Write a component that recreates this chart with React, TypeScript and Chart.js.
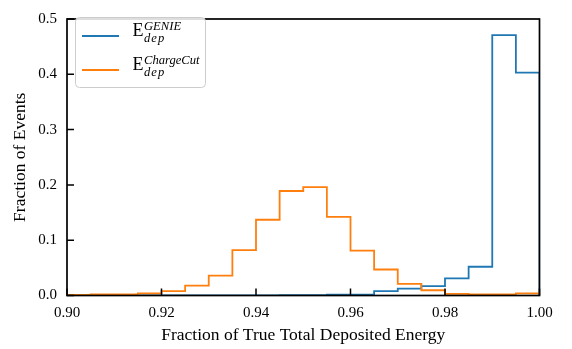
import React, { useEffect, useRef } from "react";
import { Chart, registerables } from "chart.js";

Chart.register(...registerables);

// Histogram bin left edges (bin width 0.005) and right end
const binEdges = [
  0.9, 0.905, 0.91, 0.915, 0.92, 0.925, 0.93, 0.935, 0.94, 0.945,
  0.95, 0.955, 0.96, 0.965, 0.97, 0.975, 0.98, 0.985, 0.99, 0.995, 1.0,
];

// Fraction of events per bin
const genieFractions = [
  0.0, 0.0, 0.0, 0.0, 0.0, 0.0, 0.0, 0.0, 0.0, 0.0005,
  0.0005, 0.0015, 0.0015, 0.008, 0.0125, 0.017, 0.031, 0.052, 0.471, 0.403,
];
const chargeCutFractions = [
  0.001, 0.002, 0.002, 0.004, 0.008, 0.018, 0.036, 0.082, 0.137, 0.189,
  0.196, 0.142, 0.081, 0.047, 0.021, 0.0095, 0.003, 0.002, 0.002, 0.004,
];

const xTicks = [0.9, 0.92, 0.94, 0.96, 0.98, 1.0];
const yTicks = [0.0, 0.1, 0.2, 0.3, 0.4, 0.5];

const xLabel = "Fraction of True Total Deposited Energy";
const yLabel = "Fraction of Events";
const legendBase = "E";
const legendSub = "dep";
const legendSups = ["GENIE", "ChargeCut"];

const BLUE = "#1f77b4";
const ORANGE = "#ff7f0e";
const SERIF = "'Liberation Serif', 'Times New Roman', serif";

function stepPoints(values: number[]) {
  const pts: { x: number; y: number }[] = [{ x: binEdges[0], y: 0 }];
  values.forEach((v, i) => pts.push({ x: binEdges[i], y: v }));
  const last = binEdges[binEdges.length - 1];
  pts.push({ x: last, y: values[values.length - 1] });
  pts.push({ x: last, y: 0 });
  return pts;
}

const framePlugin = {
  id: "frameAndLegend",
  afterDraw(chart: any) {
    const ctx = chart.ctx as CanvasRenderingContext2D;
    const { left, right, top, bottom } = chart.chartArea;
    const xs = chart.scales.x;
    const ys = chart.scales.y;
    ctx.save();
    // frame
    ctx.strokeStyle = "#000";
    ctx.lineWidth = 1.7;
    ctx.strokeRect(left, top, right - left, bottom - top);
    // inward ticks
    ctx.lineWidth = 1.5;
    ctx.beginPath();
    xTicks.forEach((t) => {
      const px = xs.getPixelForValue(t);
      ctx.moveTo(px, bottom);
      ctx.lineTo(px, bottom - 7);
    });
    yTicks.forEach((t) => {
      const py = ys.getPixelForValue(t);
      ctx.moveTo(left, py);
      ctx.lineTo(left + 7, py);
    });
    ctx.stroke();

    // legend
    const bx = 75.5, by = 17.5, bw = 130, bh = 70;
    ctx.beginPath();
    (ctx as any).roundRect(bx, by, bw, bh, 4);
    ctx.fillStyle = "rgba(255,255,255,0.85)";
    ctx.fill();
    ctx.strokeStyle = "#cccccc";
    ctx.lineWidth = 1;
    ctx.stroke();

    const rows = [
      { color: BLUE, y: 36, sup: legendSups[0] },
      { color: ORANGE, y: 70, sup: legendSups[1] },
    ];
    rows.forEach((r) => {
      ctx.strokeStyle = r.color;
      ctx.lineWidth = 1.8;
      ctx.beginPath();
      ctx.moveTo(82, r.y);
      ctx.lineTo(119, r.y);
      ctx.stroke();
      ctx.fillStyle = "#000";
      ctx.textAlign = "left";
      ctx.textBaseline = "alphabetic";
      ctx.font = `18px ${SERIF}`;
      ctx.fillText(legendBase, 132.5, r.y);
      const ew = ctx.measureText(legendBase).width;
      ctx.font = `italic 12.6px ${SERIF}`;
      ctx.fillText(r.sup, 132.5 + ew + 0.5, r.y - 6);
      ctx.fillText(legendSub.split("").join("\u200A"), 132.5 + ew + 0.5, r.y + 6);
    });
    ctx.restore();
  },
};

export default function App() {
  const canvasRef = useRef<HTMLCanvasElement | null>(null);

  useEffect(() => {
    document.body.style.margin = "0";
    const canvas = canvasRef.current;
    if (!canvas) return;
    const chart = new Chart(canvas, {
      type: "line",
      data: {
        datasets: [
          {
            label: "ChargeCut",
            data: stepPoints(chargeCutFractions),
            borderColor: ORANGE,
            borderWidth: 1.8,
            pointRadius: 0,
            stepped: "before",
            fill: false,
          },
          {
            label: "GENIE",
            data: stepPoints(genieFractions),
            borderColor: BLUE,
            borderWidth: 1.8,
            pointRadius: 0,
            stepped: "before",
            fill: false,
          },
        ],
      },
      options: {
        responsive: false,
        animation: false,
        devicePixelRatio: 1,
        layout: { padding: { top: 7.5, right: 32.5, left: 0, bottom: 0 } },
        plugins: {
          legend: { display: false },
          tooltip: { enabled: false },
        },
        scales: {
          x: {
            type: "linear",
            min: 0.9,
            max: 1.0,
            grid: { display: false, drawTicks: false },
            border: { display: false },
            afterBuildTicks: (scale: any) => {
              scale.ticks = xTicks.map((v) => ({ value: v }));
            },
            afterFit: (scale: any) => {
              scale.height = 53.5;
            },
            ticks: {
              padding: 9,
              color: "#000",
              font: { family: SERIF, size: 15 },
              maxRotation: 0,
              callback: (v: any) => Number(v).toFixed(2),
            },
            title: {
              display: true,
              text: xLabel,
              color: "#000",
              font: { family: SERIF, size: 17.5 },
              padding: { top: 0, bottom: 3.5 },
            },
          },
          y: {
            type: "linear",
            min: 0,
            max: 0.5,
            grid: { display: false, drawTicks: false },
            border: { display: false },
            afterBuildTicks: (scale: any) => {
              scale.ticks = yTicks.map((v) => ({ value: v }));
            },
            afterFit: (scale: any) => {
              scale.width = 67;
            },
            ticks: {
              padding: 10,
              color: "#000",
              font: { family: SERIF, size: 15 },
              callback: (v: any) => Number(v).toFixed(1),
            },
            title: {
              display: true,
              text: yLabel,
              color: "#000",
              font: { family: SERIF, size: 17.5 },
              padding: { top: 9.5, bottom: 0 },
            },
          },
        },
      },
      plugins: [framePlugin],
    });
    return () => chart.destroy();
  }, []);

  return (
    <div style={{ position: "absolute", left: 0, top: 0, width: 572, height: 349 }}>
      <canvas ref={canvasRef} width={572} height={349} style={{ display: "block" }} />
    </div>
  );
}
